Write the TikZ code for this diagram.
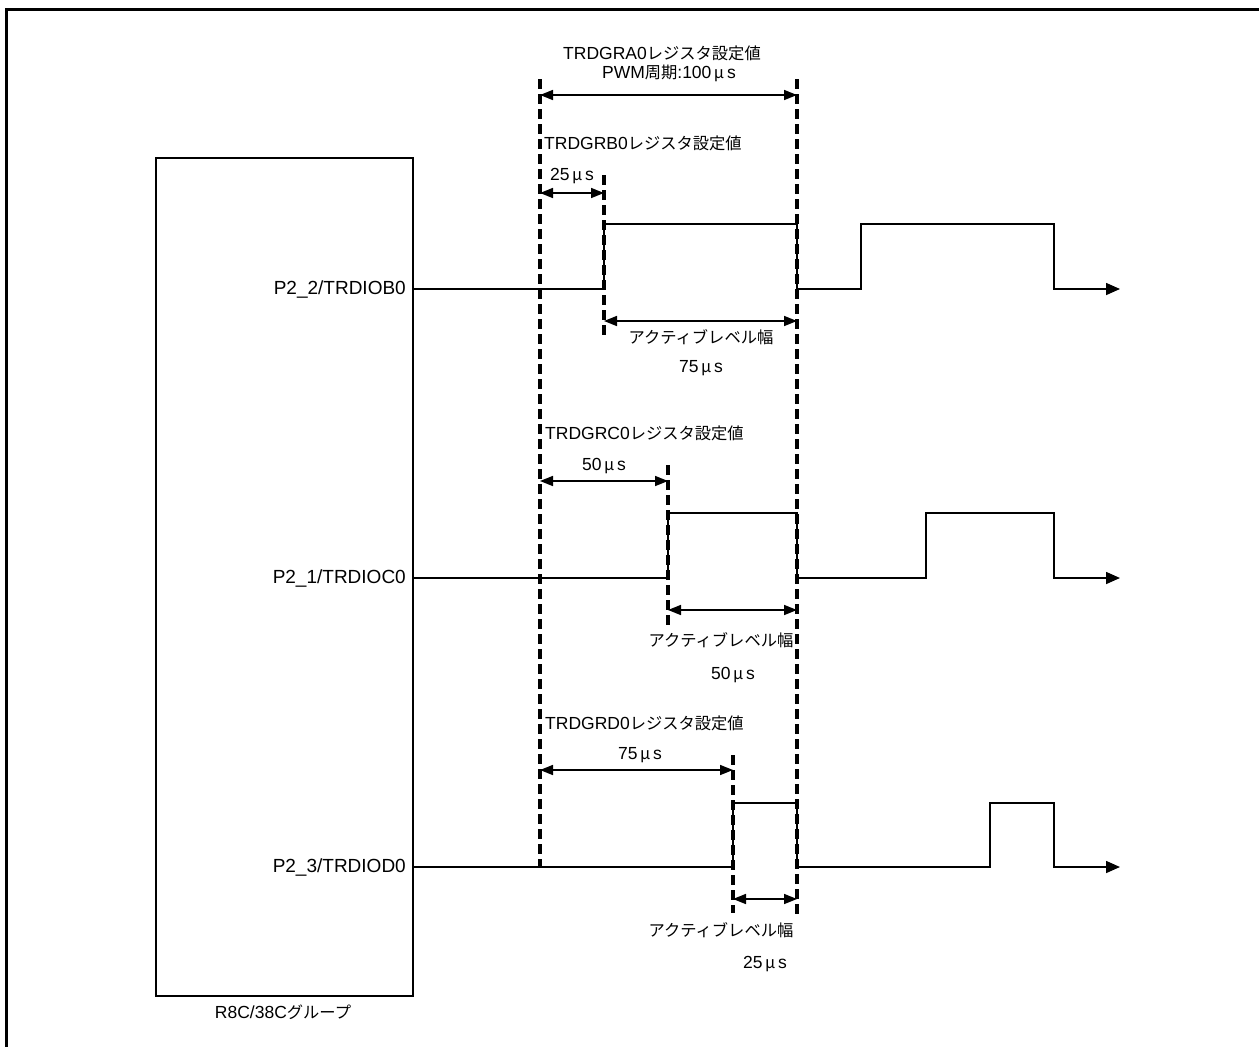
\documentclass[tikz,border=0pt]{standalone}
\usepackage{fontspec}
\setmainfont{Liberation Sans}
\newfontfamily\jp[Scale=0.93]{Noto Sans CJK JP}
\usetikzlibrary{arrows.meta}
\newcommand{\mus}{\hspace{2.5pt}{\jp μ}\hspace{3pt}s}
\begin{document}
\begin{tikzpicture}[x=1pt,y=-1pt,
  font=\fontsize{17.5}{20}\selectfont,
  sig/.style={line width=1.6pt, line join=miter},
  sigend/.style={sig, -{Triangle[length=14pt,width=12pt]}},
  guide/.style={line width=3.2pt, dash pattern=on 10pt off 5pt},
  dim/.style={line width=1.6pt, {Triangle[length=13pt,width=10pt]}-{Triangle[length=13pt,width=10pt]}},
  lbl/.style={inner sep=0pt},
  pin/.style={inner sep=0pt, anchor=east, font=\fontsize{19}{22}\selectfont}]
\path[use as bounding box] (0,0) rectangle (1259,1047);
% frame
\draw[line width=3.5pt] (6.5,1050) -- (6.5,9.5) -- (1262,9.5);
% MCU box
\node[draw, line width=1.6pt, minimum width=257pt, minimum height=838pt, inner sep=0pt, anchor=north west] (mcu) at (155,157) {};
\node[lbl] (grp) at (283,1012) {R8C/38C{\jp グループ}};
\node[pin] (pB) at (406,289) {P2\_2/TRDIOB0};
\node[pin] (pC) at (406,578) {P2\_1/TRDIOC0};
\node[pin] (pD) at (406,867) {P2\_3/TRDIOD0};
% guides
\draw[guide] (540,79) -- (540,867);
\draw[guide] (797,79) -- (797,915);
\draw[guide] (604,175) -- (604,337);
\draw[guide] (668,465) -- (668,625);
\draw[guide] (733,755) -- (733,913);
% period
\coordinate (pa1) at (540,95); \coordinate (pa2) at (797,95);
\draw[dim] (pa1) -- (pa2);
\node[lbl] (tA) at (662,53) {TRDGRA0{\jp レジスタ設定値}};
\node[lbl] (tA2) at (669,73) {PWM{\jp 周期}:100\mus};
% B0
\coordinate (b0) at (412,289);
\draw[sigend] (b0) -- (604,289) -- (604,224) -- (797,224) -- (797,289) -- (861,289) -- (861,224) -- (1054,224) -- (1054,289) -- (1120,289);
\node[lbl, anchor=west] (tB) at (544,143) {TRDGRB0{\jp レジスタ設定値}};
\node[lbl] (tB25) at (572,176) {25\mus};
\coordinate (bd1) at (540,193); \coordinate (bd2) at (604,193);
\draw[dim] (bd1) -- (bd2);
\coordinate (ba1) at (604,321); \coordinate (ba2) at (797,321);
\draw[dim] (ba1) -- (ba2);
\node[lbl] (tBa) at (701,337) {{\jp アクティブレベル幅}};
\node[lbl] (tB75) at (701,368) {75\mus};
% C0
\coordinate (c0) at (412,578);
\draw[sigend] (c0) -- (668,578) -- (668,513) -- (797,513) -- (797,578) -- (926,578) -- (926,513) -- (1054,513) -- (1054,578) -- (1120,578);
\node[lbl, anchor=west] (tC) at (545,433) {TRDGRC0{\jp レジスタ設定値}};
\node[lbl] (tC50) at (604,466) {50\mus};
\coordinate (cd1) at (540,481); \coordinate (cd2) at (668,481);
\draw[dim] (cd1) -- (cd2);
\coordinate (ca1) at (668,610); \coordinate (ca2) at (797,610);
\draw[dim] (ca1) -- (ca2);
\node[lbl] (tCa) at (721,640) {{\jp アクティブレベル幅}};
\node[lbl] (tCb) at (733,675) {50\mus};
% D0
\coordinate (d0) at (412,867);
\draw[sigend] (d0) -- (733,867) -- (733,803) -- (797,803) -- (797,867) -- (990,867) -- (990,803) -- (1054,803) -- (1054,867) -- (1120,867);
\node[lbl, anchor=west] (tD) at (545,723) {TRDGRD0{\jp レジスタ設定値}};
\node[lbl] (tD75) at (640,755) {75\mus};
\coordinate (dd1) at (540,770); \coordinate (dd2) at (733,770);
\draw[dim] (dd1) -- (dd2);
\coordinate (da1) at (733,899); \coordinate (da2) at (797,899);
\draw[dim] (da1) -- (da2);
\node[lbl] (tDa) at (721,930) {{\jp アクティブレベル幅}};
\node[lbl] (tDb) at (765,964) {25\mus};
\end{tikzpicture}
\end{document}
